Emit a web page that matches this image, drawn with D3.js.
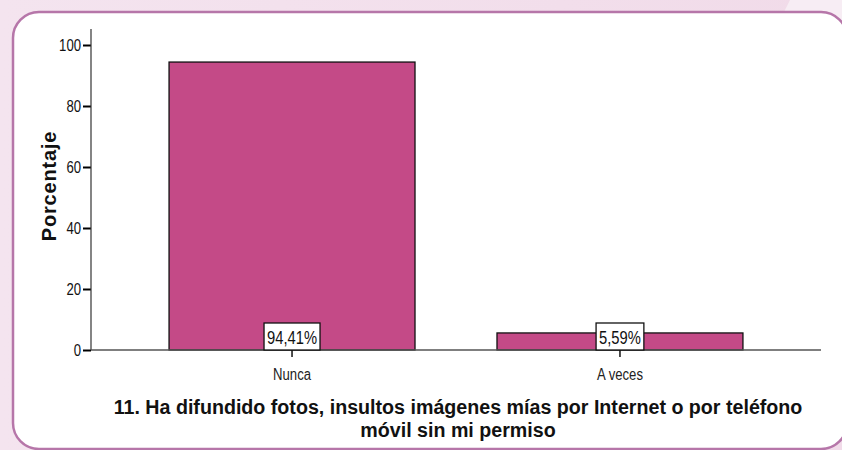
<!DOCTYPE html>
<html>
<head>
<meta charset="utf-8">
<script src="https://cdn.jsdelivr.net/npm/d3@7"></script>
<style>
  html, body { margin: 0; padding: 0; }
  body { width: 842px; height: 450px; overflow: hidden; background: #f3e3ee; }
</style>
</head>
<body>
<div id="chart"></div>
<script>
/* ===== Bar chart: pregunta 11 ===== */

const categories = ['Nunca', 'A veces'];
const values = [94.41, 5.59];
const valueLabels = ['94,41%', '5,59%'];
const yTicks = [0, 20, 40, 60, 80, 100];
const titleLines = [
  '11. Ha difundido fotos, insultos imágenes mías por Internet o por teléfono',
  'móvil sin mi permiso'
];
const yTitle = 'Porcentaje';

// Liberation Sans squeezed to 82% ~ Arial Narrow
const sans = '"Liberation Sans", Arial, sans-serif';
const NARROW = 0.82;
const W = 842, H = 450;

const svg = d3.select('#chart')
  .append('svg')
  .attr('width', W)
  .attr('height', H);

// Background
const defs = svg.append('defs');
const bg = defs.append('linearGradient')
  .attr('id', 'bg-grad')
  .attr('x1', 0).attr('y1', 0)
  .attr('x2', 1).attr('y2', 0);
bg.append('stop').attr('offset', '0%').attr('stop-color', '#f4e4ef');
bg.append('stop').attr('offset', '100%').attr('stop-color', '#f1dbe9');

svg.append('rect')
  .attr('width', W).attr('height', H)
  .attr('fill', 'url(#bg-grad)');

svg.append('path')
  .attr('d', 'M790,0 L842,0 L842,30 L775,30 Z')
  .attr('fill', '#f7edf4');

// Panel
svg.append('rect')
  .attr('x', 13).attr('y', 12)
  .attr('width', 834).attr('height', 437)
  .attr('rx', 26)
  .attr('fill', '#ffffff')
  .attr('stroke', '#b676a9')
  .attr('stroke-width', 2.5);

// Scales
const y = d3.scaleLinear()
  .domain([0, 100])
  .range([350, 45]);

const x = d3.scaleBand()
  .domain(categories)
  .range([91, 821])
  .paddingInner(0.25)
  .paddingOuter(0.238);

// Y axis
const yAxis = svg.append('g')
  .attr('transform', 'translate(91,0)')
  .call(d3.axisLeft(y).tickValues(yTicks).tickSize(8).tickSizeOuter(0));
yAxis.select('.domain').remove();
yAxis.selectAll('.tick line').attr('stroke', '#000').attr('stroke-width', 2);
yAxis.selectAll('.tick text')
  .attr('x', 0)
  .attr('transform', `translate(-10,0) scale(${NARROW},1)`)
  .attr('dy', '0.36em')
  .attr('fill', '#111')
  .attr('font-size', '16px')
  .attr('font-family', sans);

svg.append('line')
  .attr('x1', 91).attr('x2', 91)
  .attr('y1', 29).attr('y2', 350)
  .attr('stroke', '#333')
  .attr('stroke-width', 1.2);

// Bars
svg.selectAll('.bar')
  .data(categories)
  .join('rect')
  .attr('class', 'bar')
  .attr('x', d => x(d))
  .attr('y', (d, i) => y(values[i]))
  .attr('width', x.bandwidth())
  .attr('height', (d, i) => y(0) - y(values[i]))
  .attr('fill', '#c44a87')
  .attr('stroke', '#111')
  .attr('stroke-width', 1.3);

// X baseline
svg.append('line')
  .attr('x1', 91).attr('x2', 821)
  .attr('y1', 350).attr('y2', 350)
  .attr('stroke', '#555')
  .attr('stroke-width', 1.3);

// X ticks + labels
const xAxis = svg.append('g')
  .attr('transform', 'translate(0,350)')
  .call(d3.axisBottom(x).tickSize(7).tickSizeOuter(0));
xAxis.select('.domain').remove();
xAxis.selectAll('.tick line').attr('stroke', '#111').attr('stroke-width', 1.5);
xAxis.selectAll('.tick text')
  .attr('y', 0)
  .attr('dy', 0)
  .attr('transform', `translate(0,30) scale(${NARROW},1)`)
  .attr('fill', '#222')
  .attr('font-size', '16px')
  .attr('font-family', sans);

// Value label boxes
const labelG = svg.selectAll('.val')
  .data(categories)
  .join('g')
  .attr('class', 'val')
  .attr('transform', d => `translate(${x(d) + x.bandwidth() / 2},${y(0)})`);

labelG.append('text')
  .attr('text-anchor', 'middle')
  .attr('transform', `translate(0,-6) scale(${NARROW},1)`)
  .attr('font-size', '18px')
  .attr('font-family', sans)
  .attr('fill', '#111')
  .text((d, i) => valueLabels[i]);

labelG.each(function () {
  const g = d3.select(this);
  const w = g.select('text').node().getComputedTextLength() * NARROW;
  g.insert('rect', 'text')
    .attr('x', -w / 2 - 3)
    .attr('y', -27)
    .attr('width', w + 6)
    .attr('height', 27)
    .attr('fill', '#fff')
    .attr('stroke', '#111')
    .attr('stroke-width', 1.3);
});

// Y title
svg.append('text')
  .attr('transform', 'translate(56,186) rotate(-90)')
  .attr('text-anchor', 'middle')
  .attr('font-size', '20px')
  .attr('font-weight', 'bold')
  .attr('letter-spacing', '0.8px')
  .attr('font-family', sans)
  .attr('fill', '#111')
  .text(yTitle);

// Chart title: condensed so the first line spans the plot width
const titles = svg.selectAll('.title')
  .data(titleLines)
  .join('text')
  .attr('class', 'title')
  .attr('text-anchor', 'middle')
  .attr('font-size', '21px')
  .attr('font-weight', 'bold')
  .attr('font-family', sans)
  .attr('fill', '#111')
  .text(d => d);

const titleScale = 689 / titles.node().getComputedTextLength();
titles.attr('transform', (d, i) => `translate(458,${414 + i * 23}) scale(${titleScale},1)`);
</script>
</body>
</html>
